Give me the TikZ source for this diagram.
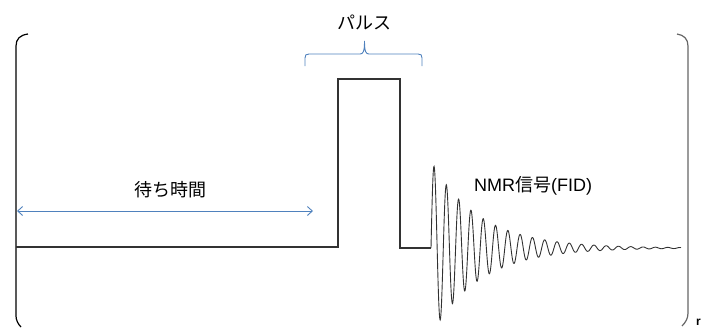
\documentclass[tikz,border=0pt]{standalone}
\usepackage{fontspec}
\newfontfamily\jp{Noto Sans CJK JP}
\newfontfamily\lat{Liberation Sans}
\usetikzlibrary{arrows.meta}
\definecolor{accblue}{RGB}{79,129,189}
\definecolor{sig}{RGB}{50,50,50}
\begin{document}
\begin{tikzpicture}[x=1pt,y=-1pt,
  frame/.style={line width=1.2pt,black},
  sigline/.style={line width=1.1pt,sig},
  bluebrace/.style={accblue,line width=0.9pt},
  bluearrow/.style={accblue,line width=0.9pt,{Straight Barb[length=5pt,width=9pt]}-{Straight Barb[length=5pt,width=9pt]}},
  lbl/.style={font=\jp\fontsize{18pt}{21pt}\selectfont,inner sep=0pt}]
\useasboundingbox (0,0) rectangle (704,327);
% frame brackets
\draw[frame] (28,34) .. controls (20,35) and (16,39) .. (16,46) -- (16,316) .. controls (16,320) and (18,324) .. (21,327);
\draw[frame,gray!80!black] (677,34) .. controls (684,35) and (688,39) .. (688,46) -- (688,313) .. controls (688,318) and (686,322) .. (682,326);
% pulse sequence
\coordinate (s0) at (16,247);
\coordinate (p1) at (338,247);
\coordinate (p2) at (338,79);
\coordinate (p3) at (400,79);
\coordinate (p4) at (400,248);
\coordinate (f0) at (431,248);
\draw[sigline] (s0) -- (p1) -- (p2) -- (p3) -- (p4) -- (f0);
\draw[line width=0.9pt,sig] plot[domain=0:250,samples=900] ({431+\x},{248-87*exp(-\x/48)*sin(\x*29.27)});
% brace
\coordinate (b1) at (305,66);
\coordinate (b2) at (422,66);
\coordinate (btip) at (364.5,41);
\draw[bluebrace] (b1) -- (305,58) .. controls (305,55) and (306,54) .. (309,54) -- (360,54)
  .. controls (363,54) and (364.5,52) .. (btip)
  .. controls (364.5,52) and (366,54) .. (369,54) -- (418,54)
  .. controls (421,54) and (422,55) .. (422,58) -- (b2);
\node[lbl] (pulse) at (364,22) {パルス};
% wait
\coordinate (a1) at (17,211);
\coordinate (a2) at (313,211);
\draw[bluearrow] (a1) -- (a2);
\node[lbl] (wait) at (170,190) {待ち時間};
\node[lbl] (nmr) at (533,186) {{\lat NMR}信号{\lat (FID)}};
\node[font=\lat\bfseries\fontsize{12pt}{14pt}\selectfont,inner sep=0pt,anchor=west] (rr) at (696,322) {r};
\end{tikzpicture}
\end{document}
